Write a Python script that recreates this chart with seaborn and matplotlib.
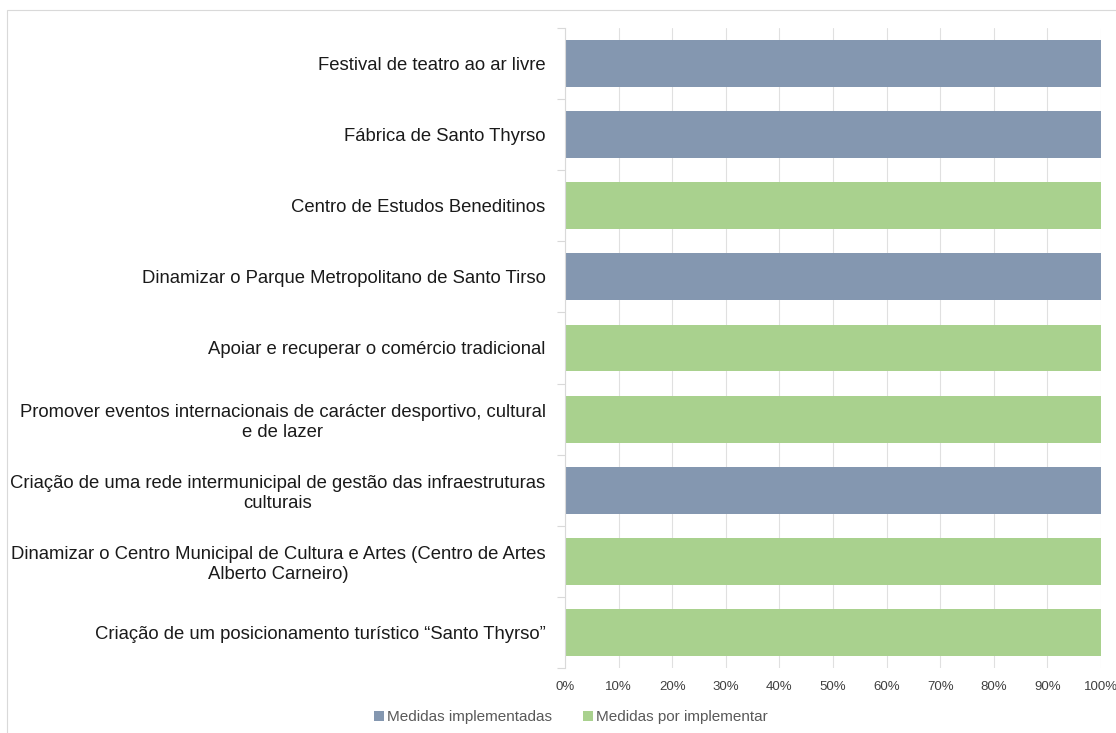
import pandas as pd
import numpy as np
import matplotlib.pyplot as plt
import seaborn as sns
from matplotlib.patches import Rectangle
from matplotlib.ticker import PercentFormatter

# ─── DATA ────────────────────────────────────────────────────────────────────

medidas = [
    "Festival de teatro ao ar livre",
    "Fábrica de Santo Thyrso",
    "Centro de Estudos Beneditinos",
    "Dinamizar o Parque Metropolitano de Santo Tirso",
    "Apoiar e recuperar o comércio tradicional",
    "Promover eventos internacionais de carácter desportivo, cultural\ne de lazer",
    "Criação de uma rede intermunicipal de gestão das infraestruturas\nculturais",
    "Dinamizar o Centro Municipal de Cultura e Artes (Centro de Artes\nAlberto Carneiro)",
    "Criação de um posicionamento turístico \u201cSanto Thyrso\u201d",
]
implementadas = [100, 100, 0, 100, 0, 0, 100, 0, 0]
por_implementar = [0, 0, 100, 0, 100, 100, 0, 100, 100]
series = ["Medidas implementadas", "Medidas por implementar"]
cores = ["#8497B0", "#A9D18E"]

df = pd.DataFrame({
    "medida": medidas * 2,
    "valor": implementadas + por_implementar,
    "serie": [series[0]] * len(medidas) + [series[1]] * len(medidas),
})

# ─── PLOT ────────────────────────────────────────────────────────────────────

sns.set_theme(style="white")
plt.rcParams["font.family"] = ["Liberation Sans", "DejaVu Sans"]

fig = plt.figure(figsize=(11.16, 7.33), dpi=100)
ax = fig.add_axes([565 / 1116, 1 - 668 / 733, (1101 - 565) / 1116, (668 - 28) / 733])

sns.barplot(data=df, y="medida", x="valor", hue="serie", order=medidas,
            hue_order=series, palette=cores, dodge=False, width=0.66,
            saturation=1, linewidth=0, orient="h", ax=ax, legend=True)

ax.set_xlim(0, 100)
ax.set_ylim(len(medidas) - 0.5, -0.5)
ax.set_xlabel("")
ax.set_ylabel("")

# x axis: gridlines only
ax.set_xticks(np.arange(0, 101, 10))
ax.xaxis.set_major_formatter(PercentFormatter(decimals=0))
ax.tick_params(axis="x", length=0, pad=9, labelsize=9.5, labelcolor="#404040")
ax.grid(axis="x", color="#E0E0E0", lw=0.8)
ax.set_axisbelow(True)

# y axis: labels at centres, tick marks at category boundaries
ax.set_yticks(range(len(medidas)))
ax.set_yticklabels(medidas, fontsize=13.3, color="#1a1a1a", multialignment="center")
ax.tick_params(axis="y", which="major", length=0, pad=14)
ax.set_yticks(np.arange(-0.5, len(medidas), 1), minor=True)
ax.tick_params(axis="y", which="minor", length=6, width=0.8, color="#D9D9D9", left=True)

for s in ["top", "right", "bottom"]:
    ax.spines[s].set_visible(False)
ax.spines["left"].set_color("#D9D9D9")
ax.spines["left"].set_linewidth(0.8)

leg = ax.legend(loc="center", bbox_to_anchor=(571 / 1116, 1 - 717 / 733),
                bbox_transform=fig.transFigure, ncol=2, frameon=False,
                fontsize=11, handlelength=0.65, handleheight=0.65,
                handletextpad=0.2, columnspacing=2.0)
for t in leg.get_texts():
    t.set_color("#595959")

# outer chart border
fig.patches.append(Rectangle((7 / 1116, -0.05), 1.1, 1.05 - 10 / 733,
                             transform=fig.transFigure, fill=False,
                             edgecolor="#D9D9D9", lw=0.8))

plt.savefig("out.png", dpi=100)
plt.close()
